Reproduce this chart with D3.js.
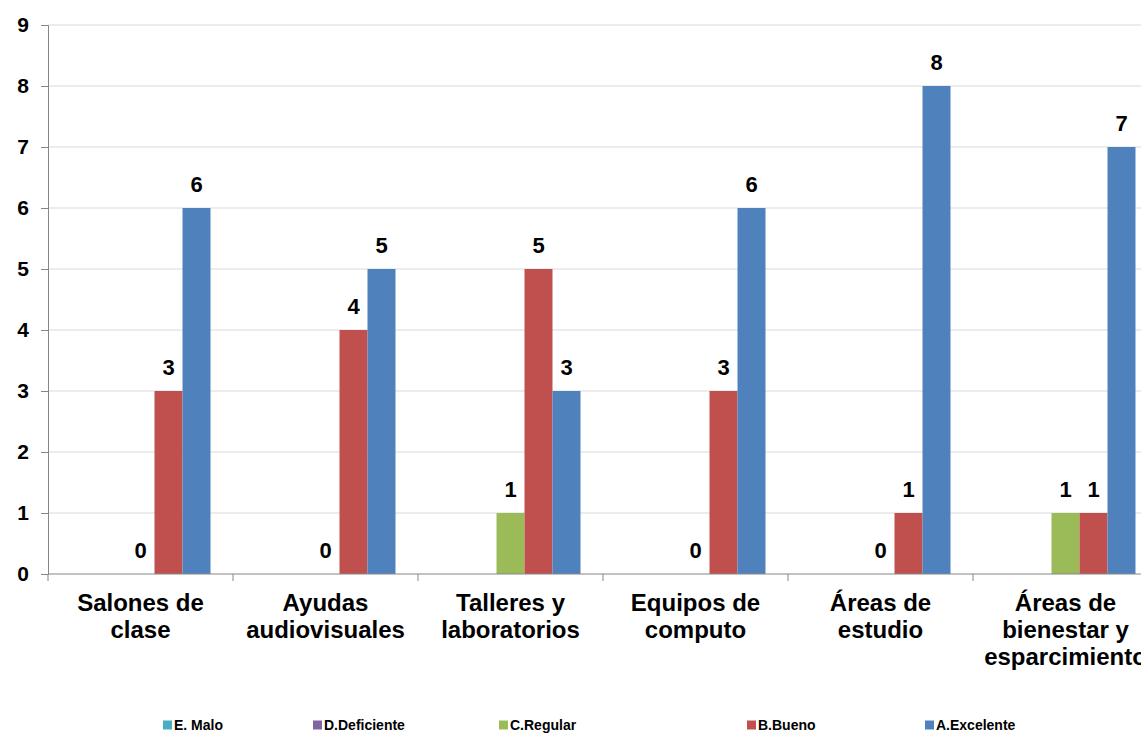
<!DOCTYPE html>
<html>
<head>
<meta charset="utf-8">
<script src="https://cdn.jsdelivr.net/npm/d3@7"></script>
<style>
  body { margin: 0; background: #fff; }
  svg { display: block; font-family: "Liberation Sans", Arial, sans-serif; font-weight: bold; }
</style>
</head>
<body>
<svg id="chart"></svg>
<script>
const categories = [
  ['Salones de', 'clase'],
  ['Ayudas', 'audiovisuales'],
  ['Talleres y', 'laboratorios'],
  ['Equipos de', 'computo'],
  ['Áreas de', 'estudio'],
  ['Áreas de', 'bienestar y', 'esparcimiento']
];
const seriesNames = ['E. Malo', 'D.Deficiente', 'C.Regular', 'B.Bueno', 'A.Excelente'];
const seriesColors = ['#4BACC6', '#8064A2', '#9BBB59', '#C0504D', '#4F81BD'];
const malo = [0, 0, 0, 0, 0, 0];
const deficiente = [0, 0, 0, 0, 0, 0];
const regular = [0, 0, 1, 0, 0, 1];
const bueno = [3, 4, 5, 3, 1, 1];
const excelente = [6, 5, 3, 6, 8, 7];
const showLabels = [false, false, true, true, true];
const yTicks = [0, 1, 2, 3, 4, 5, 6, 7, 8, 9];

const values = [malo, deficiente, regular, bueno, excelente];

const W = 1141, H = 734;
const plotLeft = 48, plotBottom = 574, plotTop = 25;
const catWidth = 185;

const svg = d3.select('#chart').attr('width', W).attr('height', H);

const x = d3.scaleBand()
  .domain(d3.range(categories.length))
  .range([plotLeft, plotLeft + catWidth * categories.length]);

const xs = d3.scaleBand()
  .domain(d3.range(seriesNames.length))
  .range([22.5, catWidth - 22.5]);

const y = d3.scaleLinear().domain([0, 9]).range([plotBottom, plotTop]);

// gridlines
svg.append('g')
  .selectAll('line')
  .data(yTicks.filter(d => d > 0))
  .join('line')
  .attr('x1', plotLeft).attr('x2', W)
  .attr('y1', d => y(d)).attr('y2', d => y(d))
  .attr('stroke', '#d9d9d9').attr('stroke-width', 1);

// y axis
const yAxis = svg.append('g')
  .attr('transform', `translate(${plotLeft},0)`)
  .call(d3.axisLeft(y).tickValues(yTicks).tickSize(7).tickPadding(12).tickFormat(d3.format('d')));
yAxis.select('.domain').attr('stroke', '#868686');
yAxis.selectAll('.tick line').attr('stroke', '#868686');
yAxis.selectAll('.tick text')
  .attr('font-size', 21).attr('font-weight', 'bold').attr('fill', '#000')
  .attr('font-family', '"Liberation Sans", Arial, sans-serif');

// bars
values.forEach((vals, si) => {
  const g = svg.append('g');
  g.selectAll('rect')
    .data(vals)
    .join('rect')
    .attr('x', (d, i) => x(i) + xs(si))
    .attr('width', xs.bandwidth())
    .attr('y', d => y(d))
    .attr('height', d => y(0) - y(d))
    .attr('fill', seriesColors[si]);
  if (showLabels[si]) {
    g.selectAll('text')
      .data(vals)
      .join('text')
      .attr('x', (d, i) => x(i) + xs(si) + xs.bandwidth() / 2)
      .attr('y', d => y(d) - 16)
      .attr('text-anchor', 'middle')
      .attr('font-size', 22)
      .attr('fill', '#000')
      .text(d => d);
  }
});

// x axis
svg.append('line')
  .attr('x1', plotLeft).attr('x2', W)
  .attr('y1', plotBottom).attr('y2', plotBottom)
  .attr('stroke', '#868686');
svg.append('g')
  .selectAll('line')
  .data(d3.range(categories.length + 1))
  .join('line')
  .attr('x1', i => plotLeft + i * catWidth).attr('x2', i => plotLeft + i * catWidth)
  .attr('y1', plotBottom).attr('y2', plotBottom + 7)
  .attr('stroke', '#868686');

const catLabels = svg.append('g')
  .selectAll('text')
  .data(categories)
  .join('text')
  .attr('text-anchor', 'middle')
  .attr('font-size', 24)
  .attr('fill', '#000');
catLabels.each(function (lines, i) {
  d3.select(this).selectAll('tspan')
    .data(lines)
    .join('tspan')
    .attr('x', x(i) + catWidth / 2)
    .attr('y', (d, j) => 611 + j * 27)
    .text(d => d);
});

// legend
const legendX = [163, 313, 499, 747, 925];
const legend = svg.append('g')
  .selectAll('g')
  .data(seriesNames)
  .join('g')
  .attr('transform', (d, i) => `translate(${legendX[i]},725)`);
legend.append('rect')
  .attr('x', 0).attr('y', -4.5)
  .attr('width', 9).attr('height', 9)
  .attr('fill', (d, i) => seriesColors[i]);
legend.append('text')
  .attr('x', 11).attr('y', 5)
  .attr('font-size', 14)
  .attr('fill', '#000')
  .text(d => d);
</script>
</body>
</html>
